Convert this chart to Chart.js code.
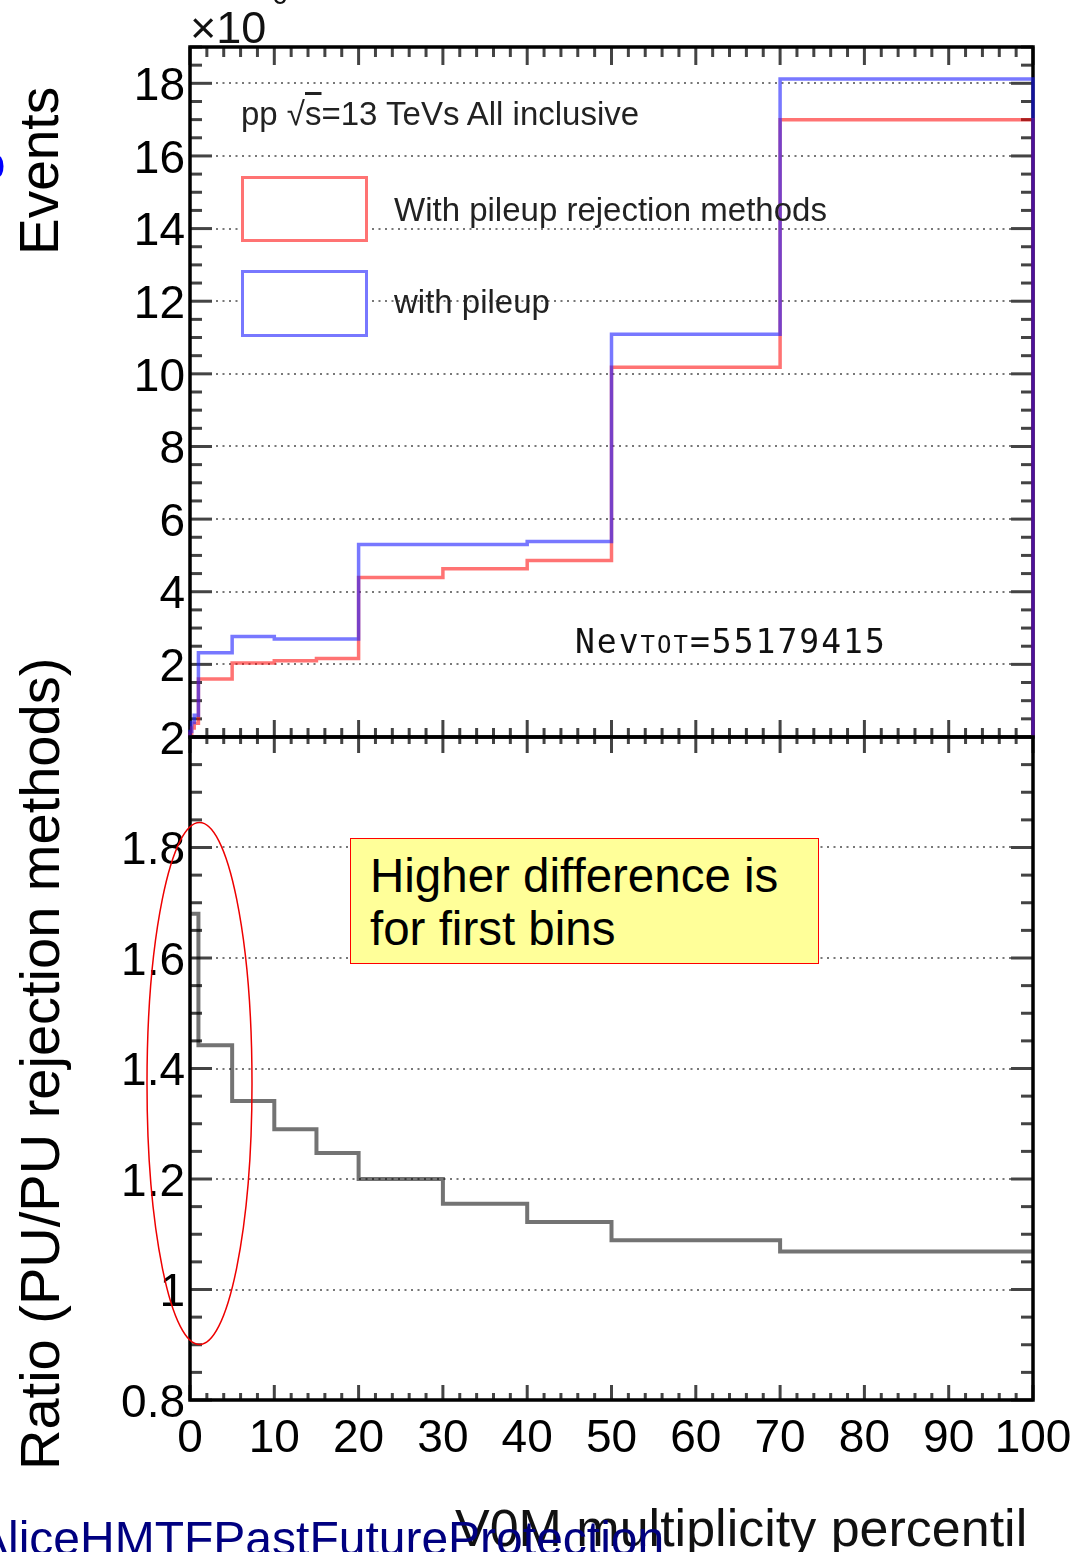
<!DOCTYPE html>
<html>
<head>
<meta charset="utf-8">
<script src="https://cdn.jsdelivr.net/npm/chart.js@4.4.1/dist/chart.umd.min.js"></script>
<style>
  body { margin: 0; width: 1092px; height: 1552px; overflow: hidden; background: #fff; position: relative;
         font-family: "Liberation Sans", Arial, sans-serif; }
  .box { position: absolute; }
  .t { position: absolute; white-space: nowrap; line-height: 1; color: #000; }
  .rot { transform-origin: left top; transform: rotate(-90deg); }
</style>
</head>
<body>
<div class="box" style="left:0;top:0;width:1092px;height:800px"><canvas id="eventsChart" width="1092" height="800"></canvas></div>
<div class="box" style="left:0;top:660px;width:1092px;height:820px"><canvas id="ratioChart" width="1092" height="820"></canvas></div>

<!-- exponent, cut at top -->
<div class="t" style="left:190px;top:5px;font-size:45px;color:#111">×10</div>
<div class="t" style="left:272px;top:-19px;font-size:28px;color:#111">6</div>

<div class="t" style="left:241px;top:97px;font-size:33px;color:#222">pp √<span style="text-decoration:overline">s</span>=13 TeVs All inclusive</div>

<!-- legend -->
<div class="box" style="left:241px;top:176px;width:127px;height:66px;box-sizing:border-box;border:3px solid rgba(255,0,0,0.55);background:#fff"></div>
<div class="box" style="left:241px;top:270px;width:127px;height:67px;box-sizing:border-box;border:3px solid rgba(30,30,255,0.6);background:#fff"></div>
<div class="t" style="left:394px;top:193px;font-size:33px;color:#222">With pileup rejection methods</div>
<div class="t" style="left:394px;top:285px;font-size:33px;color:#222">with pileup</div>

<div class="t" style="left:575px;top:625px;font-size:33px;font-family:'DejaVu Sans Mono',monospace;letter-spacing:2px;color:#111">Nev<span style="font-size:24px">TOT</span>=55179415</div>

<!-- annotation box -->
<div class="box" style="left:350px;top:838px;width:469px;height:126px;box-sizing:border-box;border:1.5px solid #f00;background:#ffff99"></div>
<div class="t" style="left:370px;top:849px;font-size:47.5px;line-height:53px">Higher difference is<br>for first bins</div>

<svg class="box" style="left:0;top:0" width="1092" height="1552">
  <ellipse cx="199.5" cy="1083.5" rx="52.5" ry="261" fill="none" stroke="#e00" stroke-width="1.5"/>
</svg>

<!-- axis titles -->
<div class="t rot" style="left:-43px;top:180px;font-size:55px;color:#0000ff">s</div>
<div class="t rot" style="left:12px;top:255px;font-size:55px">Events</div>
<div class="t rot" style="left:12px;top:1470px;font-size:56px">Ratio (PU/PU rejection methods)</div>
<div class="t" style="left:455px;top:1502px;font-size:52px;color:#111">V0M multiplicity percentil</div>
<div class="t" style="left:-24px;top:1515px;font-size:48px;color:#000080">AliceHMTFPastFutureProtection</div>

<script>
// V0M percentile bin edges and events per bin (x10^6)
const eventEdges = [0, 0.2, 0.5, 1, 5, 10, 15, 20, 30, 40, 50, 70, 100];
const eventsRejected = [0.1, 0.25, 0.38, 1.6, 2.04, 2.1, 2.16, 4.39, 4.63, 4.86, 10.18, 17.0];
const eventsPileup = [0.15, 0.4, 0.6, 2.32, 2.77, 2.7, 2.7, 5.3, 5.3, 5.38, 11.09, 18.12];

// ratio panel
const ratioEdges = [0, 1, 5, 10, 15, 20, 30, 40, 50, 70, 100];
const ratioValues = [1.68, 1.442, 1.341, 1.29, 1.247, 1.2, 1.155, 1.122, 1.089, 1.069];

const xTicks = [0, 10, 20, 30, 40, 50, 60, 70, 80, 90, 100];
const eventsTicks = [2, 4, 6, 8, 10, 12, 14, 16, 18];
const ratioTicks = [0.8, 1, 1.2, 1.4, 1.6, 1.8, 2];

const tickFont = { family: 'Liberation Sans', size: 46 };

function histPoints(edges, vals, closed) {
  const pts = closed ? [{ x: edges[0], y: 0 }] : [];
  vals.forEach((v, i) => pts.push({ x: edges[i], y: v }));
  pts.push({ x: edges[edges.length - 1], y: vals[vals.length - 1] });
  if (closed) pts.push({ x: edges[edges.length - 1], y: 0 });
  return pts;
}

// ROOT-like frame with inward ticks on all four sides
const rootFrame = {
  id: 'rootFrame',
  beforeDatasetsDraw(chart, args, o) {
    const { ctx, chartArea: a } = chart;
    const x = chart.scales.x, y = chart.scales.y;
    const line = (x1, y1, x2, y2) => { ctx.beginPath(); ctx.moveTo(x1, y1); ctx.lineTo(x2, y2); ctx.stroke(); };
    ctx.save();
    ctx.strokeStyle = '#444';
    ctx.lineWidth = 3;
    let n = Math.round((y.max - y.min) / o.yMinor);
    for (let i = 0; i <= n; i++) {
      const v = y.min + i * o.yMinor;
      const r = v / o.yMajor;
      const len = Math.abs(r - Math.round(r)) < 1e-6 ? o.yMajorLen : o.yMinorLen;
      const py = y.getPixelForValue(v);
      line(a.left, py, a.left + len, py);
      line(a.right, py, a.right - len, py);
    }
    n = Math.round((x.max - x.min) / o.xMinor);
    for (let i = 0; i <= n; i++) {
      const v = x.min + i * o.xMinor;
      const major = v % o.xMajor === 0;
      const px = x.getPixelForValue(v);
      line(px, a.top, px, a.top + (major ? o.topMajor : o.topMinor));
      line(px, a.bottom, px, a.bottom - (major ? o.botMajor : o.botMinor));
    }
    ctx.strokeStyle = '#000';
    ctx.lineWidth = 3.5;
    ctx.strokeRect(a.left, a.top, a.right - a.left, a.bottom - a.top);
    ctx.restore();
  }
};

function yAxis(min, max, ticks, gridOn) {
  return {
    type: 'linear', min, max,
    afterBuildTicks: s => { s.ticks = ticks.map(v => ({ value: v })); },
    afterFit: s => { s.width = 190; },
    ticks: { font: tickFont, color: '#000', padding: 5, labelOffset: 4, callback: v => String(v) },
    grid: {
      drawTicks: false, lineWidth: 2,
      color: c => gridOn(c.tick && c.tick.value) ? '#777' : 'rgba(0,0,0,0)'
    },
    border: { display: false, dash: [2, 4.5] }
  };
}

new Chart(document.getElementById('eventsChart'), {
  type: 'line',
  data: {
    datasets: [
      { label: 'with pileup', data: histPoints(eventEdges, eventsPileup, true),
        borderColor: 'rgba(30,30,255,0.6)', borderWidth: 3.5 },
      { label: 'With pileup rejection methods', data: histPoints(eventEdges, eventsRejected, true),
        borderColor: 'rgba(255,0,0,0.55)', borderWidth: 3.5 }
    ]
  },
  options: {
    responsive: false, animation: false,
    layout: { padding: { left: 0, top: 47, right: 59, bottom: 63 } },
    elements: { point: { radius: 0 }, line: { stepped: 'before', tension: 0, fill: false } },
    datasets: { line: { clip: false } },
    plugins: {
      legend: { display: false }, tooltip: { enabled: false },
      rootFrame: { yMinor: 0.5, yMajor: 2, yMajorLen: 22, yMinorLen: 12, xMinor: 2, xMajor: 10,
                   topMajor: 18, topMinor: 10, botMajor: 17, botMinor: 9 }
    },
    scales: {
      x: { type: 'linear', min: 0, max: 100, display: false },
      y: yAxis(0, 19, eventsTicks, v => true)
    }
  },
  plugins: [rootFrame]
});

new Chart(document.getElementById('ratioChart'), {
  type: 'line',
  data: {
    datasets: [
      { label: 'ratio', data: histPoints(ratioEdges, ratioValues, false),
        borderColor: 'rgba(0,0,0,0.55)', borderWidth: 4 }
    ]
  },
  options: {
    responsive: false, animation: false,
    layout: { padding: { left: 0, top: 77, right: 59, bottom: 20 } },
    elements: { point: { radius: 0 }, line: { stepped: 'before', tension: 0, fill: false } },
    datasets: { line: { clip: false } },
    plugins: {
      legend: { display: false }, tooltip: { enabled: false },
      rootFrame: { yMinor: 0.05, yMajor: 0.2, yMajorLen: 22, yMinorLen: 12, xMinor: 2, xMajor: 10,
                   topMajor: 16, topMinor: 7, botMajor: 15, botMinor: 7 }
    },
    scales: {
      x: {
        type: 'linear', min: 0, max: 100,
        afterBuildTicks: s => { s.ticks = xTicks.map(v => ({ value: v })); },
        afterFit: s => { s.height = 60; },
        ticks: { font: tickFont, color: '#000', padding: 4, maxRotation: 0, autoSkip: false },
        grid: { display: false },
        border: { display: false }
      },
      y: yAxis(0.8, 2, ratioTicks, v => v > 0.85 && v < 1.95)
    }
  },
  plugins: [rootFrame]
});
</script>
</body>
</html>
